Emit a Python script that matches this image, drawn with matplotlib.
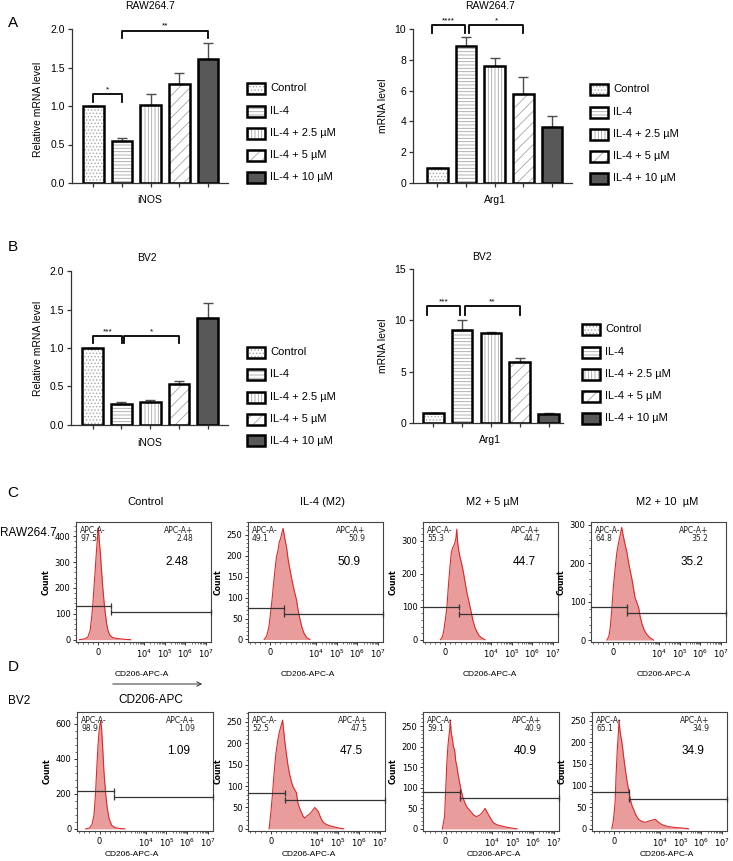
import matplotlib
matplotlib.use('Agg')
import matplotlib.pyplot as plt
import numpy as np
from matplotlib.patches import Rectangle
from matplotlib.ticker import FixedLocator, MultipleLocator

plt.rcParams['font.family'] = ['Liberation Sans', 'DejaVu Sans']
plt.rcParams['hatch.color'] = '#a6a6a6'
plt.rcParams['hatch.linewidth'] = 0.6

W, H = 733, 861

# --- qPCR bar data ---
groups = ['Control', 'IL-4', 'IL-4 + 2.5 µM', 'IL-4 + 5 µM', 'IL-4 + 10 µM']
fills = ['white', 'white', 'white', 'white', '#585858']
hatches = ['.....', '-----', '|||||', '///', '']

raw_inos = [1.00, 0.55, 1.01, 1.29, 1.61]
raw_inos_err = [0.0, 0.03, 0.15, 0.14, 0.21]
raw_arg1 = [0.95, 8.90, 7.60, 5.76, 3.63]
raw_arg1_err = [0.0, 0.55, 0.50, 1.10, 0.72]
bv2_inos = [1.00, 0.27, 0.30, 0.53, 1.39]
bv2_inos_err = [0.0, 0.03, 0.02, 0.04, 0.20]
bv2_arg1 = [0.94, 9.03, 8.77, 5.95, 0.88]
bv2_arg1_err = [0.0, 0.97, 0.10, 0.40, 0.12]

# --- flow cytometry histograms (CD206-APC-A vs count) ---
raw_ctrl_x = [-750, -550, -420, -330, -270, -220, -170, -120, -80, -40, -10, 15, 40, 80, 120,
              170, 220, 270, 320, 380, 450, 550, 700, 900, 1300, 2200]
raw_ctrl_n = [0, 3, 10, 35, 85, 140, 210, 280, 340, 390, 432, 415, 375, 330, 272,
              205, 150, 105, 65, 35, 18, 9, 5, 3, 1, 0]
raw_il4_x = [-250, -150, -60, 0, 60, 120, 180, 240, 300, 350, 400, 450, 500, 540, 580,
             640, 700, 780, 860, 950, 1100, 1300, 1600, 2000, 2600, 3500, 5000]
raw_il4_n = [0, 8, 30, 60, 92, 130, 165, 197, 212, 232, 240, 252, 265, 252, 238,
             220, 192, 165, 140, 115, 95, 72, 50, 30, 14, 4, 0]
raw_5_x = [-200, -120, -60, 0, 60, 120, 180, 230, 280, 330, 380, 420, 450, 480, 520,
           580, 640, 700, 780, 860, 950, 1100, 1300, 1600, 2000, 2600, 3500, 5000]
raw_5_n = [0, 8, 30, 62, 100, 165, 220, 262, 278, 285, 295, 310, 335, 300, 275,
           250, 232, 210, 175, 140, 110, 80, 58, 38, 25, 12, 5, 0]
raw_10_x = [-260, -180, -120, -65, 0, 66, 130, 200, 260, 330, 380, 440, 530, 620, 730,
            860, 1000, 1200, 1500, 1900, 2500, 3500, 5300]
raw_10_n = [0, 10, 35, 80, 140, 185, 225, 252, 270, 293, 275, 255, 230, 195, 160,
            110, 85, 60, 40, 25, 15, 6, 0]
bv2_ctrl_x = [-550, -400, -300, -220, -160, -110, -60, -20, 20, 50, 80, 120, 170, 240, 300,
              380, 480, 600, 750, 1000]
bv2_ctrl_n = [0, 5, 25, 80, 200, 350, 480, 560, 600, 615, 570, 470, 330, 200, 120,
              55, 20, 8, 3, 0]
bv2_il4_x = [-65, 0, 66, 130, 200, 270, 330, 400, 465, 530, 600, 670, 730, 800, 860, 1000,
             1200, 1450, 1700, 2100, 2500, 3200, 4400, 5800, 7600, 9500, 11200, 15000, 19500,
             28000, 41000, 87000, 182000]
bv2_il4_n = [0, 35, 80, 130, 175, 205, 225, 240, 254, 215, 180, 150, 130, 112, 100, 85,
             60, 48, 40, 30, 25, 30, 35, 42, 50, 45, 40, 25, 15, 10, 7, 3, 0]
bv2_5_x = [-130, -40, 50, 90, 130, 160, 185, 220, 265, 310, 360, 400, 450, 500, 560, 620,
           690, 750, 820, 950, 1070, 1400, 1860, 2500, 3240, 4000, 4790, 5800, 6900, 9000,
           12000, 18000, 26000, 54000, 166000]
bv2_5_n = [0, 30, 160, 200, 225, 240, 265, 235, 220, 200, 190, 165, 150, 130, 110, 92,
           75, 65, 55, 45, 40, 33, 30, 33, 38, 44, 50, 42, 35, 25, 15, 10, 8, 4, 0]
bv2_10_x = [-105, -40, 26, 70, 120, 150, 185, 215, 250, 285, 320, 370, 425, 480, 530, 580,
            625, 690, 760, 850, 960, 1300, 1860, 2800, 4000, 5700, 7500, 10000, 15000, 26000,
            55000, 112000, 240000]
bv2_10_n = [0, 20, 60, 130, 190, 215, 252, 230, 215, 205, 190, 165, 140, 118, 100, 85,
            70, 55, 45, 32, 22, 17, 15, 18, 20, 22, 17, 12, 8, 5, 3, 2, 0]

raw_neg = ['97.5', '49.1', '55.3', '64.8']
raw_pos = ['2.48', '50.9', '44.7', '35.2']
bv2_neg = ['98.9', '52.5', '59.1', '65.1']
bv2_pos = ['1.09', '47.5', '40.9', '34.9']
flow_titles = ['Control', 'IL-4 (M2)', 'M2 + 5 µM', 'M2 + 10  µM']

fig = plt.figure(figsize=(W / 100, H / 100), dpi=100)


def rect(l, t, r, b):
    return [l / W, 1 - b / H, (r - l) / W, (b - t) / H]


def ftext(x, y, s, **kw):
    kw.setdefault('ha', 'center')
    kw.setdefault('va', 'center')
    fig.text(x / W, 1 - y / H, s, **kw)


def bar_panel(box, vals, errs, xlim, ylim, yticks, ylabels, brackets):
    ax = fig.add_axes(rect(*box))
    x = np.arange(len(vals))
    bars = ax.bar(x, vals, width=0.72, color=fills, linewidth=0, zorder=2)
    for b, h in zip(bars, hatches):
        b.set_hatch(h)
    ax.errorbar(x, vals, yerr=[np.zeros(len(vals)), errs], fmt='none', ecolor='#4d4d4d',
                elinewidth=1.0, capsize=3.6, capthick=1.0, zorder=3)
    ax.bar(x, vals, width=0.72, fill=False, edgecolor='black', linewidth=1.8, zorder=4)
    ax.set_xlim(*xlim)
    ax.set_ylim(*ylim)
    ax.set_xticks(x)
    ax.set_xticklabels([])
    ax.set_yticks(yticks)
    ax.set_yticklabels(ylabels)
    for s in ['top', 'right']:
        ax.spines[s].set_visible(False)
    for s in ['left', 'bottom']:
        ax.spines[s].set_color('#333333')
        ax.spines[s].set_linewidth(0.9)
    ax.tick_params(length=3, width=0.9, color='#333333', labelsize=7.5, pad=2)
    for i, j, y, h, s in brackets:
        ax.plot([i, i, j, j], [y - h, y, y, y - h], color='black', lw=1.3,
                clip_on=False, zorder=5)
        ax.annotate(s, ((i + j) / 2, y), xytext=(0, 0.5), textcoords='offset points',
                    ha='center', va='bottom', fontsize=6, annotation_clip=False)
    return ax


def legend_at(x0, ys):
    for i, y in enumerate(ys):
        xy = (x0 / W, 1 - (y + 5.5) / H)
        fig.add_artist(Rectangle(xy, 18 / W, 11 / H, transform=fig.transFigure,
                                 facecolor=fills[i], hatch=hatches[i], linewidth=0))
        fig.add_artist(Rectangle(xy, 18 / W, 11 / H, transform=fig.transFigure,
                                 fill=False, edgecolor='black', linewidth=1.8))
        ftext(x0 + 23, y, groups[i], ha='left', fontsize=8)


# --- A / B bar charts ---
bar_panel((72, 29, 228, 183), raw_inos, raw_inos_err, (-0.75, 4.7), (0, 2.0),
          [0, 0.5, 1.0, 1.5, 2.0], ['0.0', '0.5', '1.0', '1.5', '2.0'],
          [(0, 1, 1.15, 0.1, '*'), (1, 4, 1.98, 0.1, '**')])
bar_panel((413, 29, 572, 183), raw_arg1, raw_arg1_err, (-0.85, 4.7), (0, 10),
          [0, 2, 4, 6, 8, 10], ['0', '2', '4', '6', '8', '10'],
          [(-0.2, 0.98, 10.28, 0.55, '****'), (1.1, 3.0, 10.28, 0.55, '*')])
bar_panel((71, 271, 228, 425), bv2_inos, bv2_inos_err, (-0.75, 4.7), (0, 2.0),
          [0, 0.5, 1.0, 1.5, 2.0], ['0.0', '0.5', '1.0', '1.5', '2.0'],
          [(0, 1.03, 1.15, 0.09, '***'), (1.1, 3.0, 1.15, 0.09, '*')])
bar_panel((413, 269, 563, 423), bv2_arg1, bv2_arg1_err, (-0.7, 4.5), (0, 15),
          [0, 5, 10, 15], ['0', '5', '10', '15'],
          [(-0.2, 0.94, 11.4, 0.9, '***'), (1.1, 3.0, 11.4, 0.9, '**')])

legend_at(247, [88, 111, 133, 155, 177])
legend_at(590, [89, 112, 134, 156, 178])
legend_at(247, [352, 374, 397, 419, 441])
legend_at(582, [329, 352, 374, 396, 418])

ftext(150, 6, 'RAW264.7', fontsize=7.5)
ftext(490, 6, 'RAW264.7', fontsize=7.5)
ftext(147, 258, 'BV2', fontsize=7.5)
ftext(482, 257, 'BV2', fontsize=7.5)
ftext(150, 200, 'iNOS', fontsize=7.5)
ftext(495, 200, 'Arg1', fontsize=7.5)
ftext(150, 443, 'iNOS', fontsize=7.5)
ftext(490, 440, 'Arg1', fontsize=7.5)
ftext(38, 109, 'Relative mRNA level', fontsize=7.5, rotation=90)
ftext(383, 106, 'mRNA level', fontsize=7.5, rotation=90)
ftext(38, 348, 'Relative mRNA level', fontsize=7.5, rotation=90)
ftext(383, 346, 'mRNA level', fontsize=7.5, rotation=90)

ftext(13, 23, 'A', fontsize=11)
ftext(13, 247, 'B', fontsize=11)
ftext(13, 493, 'C', fontsize=11)
ftext(13, 667, 'D', fontsize=11)

# --- C / D flow histograms ---
XLO, XHI = -890, 1.74e7
xmaj = [0, 1e4, 1e5, 1e6, 1e7]
xmaj_lab = ['0', '$10^4$', '$10^5$', '$10^6$', '$10^7$']
xminor = [-800, -600, -400, -200, 200, 400, 600, 800, 1000] + \
    [m * 10 ** k for k in (3, 4, 5, 6) for m in range(2, 10)]


def flow_panel(box, xs, ns, ylim, ystep, ymin_step, gate, neg, pos):
    ax = fig.add_axes(rect(*box))
    ax.set_xscale('symlog', linthresh=1000, linscale=1.1)
    ax.fill_between(xs, ns, 0, color='#e89c9c', lw=0, zorder=1)
    ax.plot(xs, ns, color='#dc2a2a', lw=0.8, zorder=2)
    ax.set_xlim(XLO, XHI)
    ax.set_ylim(*ylim)
    ax.set_xticks(xmaj)
    ax.set_xticklabels(xmaj_lab)
    ax.xaxis.set_minor_locator(FixedLocator(xminor))
    ax.yaxis.set_major_locator(MultipleLocator(ystep))
    ax.yaxis.set_minor_locator(MultipleLocator(ymin_step))
    for s in ax.spines.values():
        s.set_color('#444444')
        s.set_linewidth(0.8)
    ax.tick_params(which='major', length=2.5, width=0.7, labelsize=6, pad=1.5,
                   color='#333333')
    ax.tick_params(which='minor', length=1.5, width=0.5, color='#333333')
    for lbl in ax.get_xticklabels() + ax.get_yticklabels():
        lbl.set_fontfamily('DejaVu Sans')
    ax.set_ylabel('Count', fontsize=5.5, fontweight='bold', family='DejaVu Sans',
                  labelpad=3)
    b, yl, yr = gate
    g = dict(color='#333333', lw=0.9, clip_on=False, zorder=3)
    ax.plot([XLO, b], [yl, yl], **g)
    ax.plot([b, XHI], [yr, yr], **g)
    ax.plot([b], [yl], marker='|', ms=5, mew=0.9, **g)
    ax.plot([b, XHI], [yr, yr], ls='none', marker='|', ms=5, mew=0.9, **g)
    t = dict(transform=ax.transAxes, fontsize=5.5, family='DejaVu Sans', color='#222222')
    ax.text(0.03, 0.965, 'APC-A-', va='top', ha='left', **t)
    ax.text(0.03, 0.9, neg, va='top', ha='left', **t)
    ax.text(0.87, 0.965, 'APC-A+', va='top', ha='right', **t)
    ax.text(0.87, 0.9, pos, va='top', ha='right', **t)
    ax.text(0.75, 0.67, pos, transform=ax.transAxes, fontsize=8.5, ha='center',
            va='center')
    return ax


c_cols = [(76, 211), (248, 383), (423, 558), (591, 726)]
d_cols = [(77, 213), (248, 385), (423, 559), (592, 727)]

raw_sets = [(raw_ctrl_x, raw_ctrl_n, (-9, 455), 100, 20, (517, 130, 108)),
            (raw_il4_x, raw_il4_n, (-6, 280), 50, 10, (530, 74, 60)),
            (raw_5_x, raw_5_n, (-7, 357), 100, 20, (530, 98, 77)),
            (raw_10_x, raw_10_n, (-5, 307), 100, 20, (530, 85, 70))]
bv2_sets = [(bv2_ctrl_x, bv2_ctrl_n, (-12, 668), 200, 40, (570, 215, 181)),
            (bv2_il4_x, bv2_il4_n, (-5, 273), 50, 10, (570, 84, 68)),
            (bv2_5_x, bv2_5_n, (-5, 284), 50, 10, (560, 90, 74)),
            (bv2_10_x, bv2_10_n, (-5, 270), 50, 10, (560, 85, 69))]

for k in range(4):
    xs, ns, yl, ys, ym, gate = raw_sets[k]
    flow_panel((c_cols[k][0], 522, c_cols[k][1], 642), xs, ns, yl, ys, ym, gate,
               raw_neg[k], raw_pos[k])
    xs, ns, yl, ys, ym, gate = bv2_sets[k]
    flow_panel((d_cols[k][0], 712, d_cols[k][1], 831), xs, ns, yl, ys, ym, gate,
               bv2_neg[k], bv2_pos[k])

for x, s in zip([145, 322, 492, 667], flow_titles):
    ftext(x, 502, s, fontsize=8)
for x in [142, 308, 490, 664]:
    ftext(x, 675, 'CD206-APC-A', fontsize=6)
for x in [132, 309, 494, 667]:
    ftext(x, 855, 'CD206-APC-A', fontsize=6)

fig.add_artist(matplotlib.patches.FancyArrowPatch(
    (110 / W, 1 - 684 / H), (205 / W, 1 - 684 / H), transform=fig.transFigure,
    arrowstyle='->', mutation_scale=8, lw=0.7, color='#333333'))
ftext(151, 700, 'CD206-APC', fontsize=8.5)
ftext(0, 533, 'RAW264.7', fontsize=8.5, ha='left')
ftext(8, 701, 'BV2', fontsize=8.5, ha='left')

fig.savefig('out.png', dpi=100)
